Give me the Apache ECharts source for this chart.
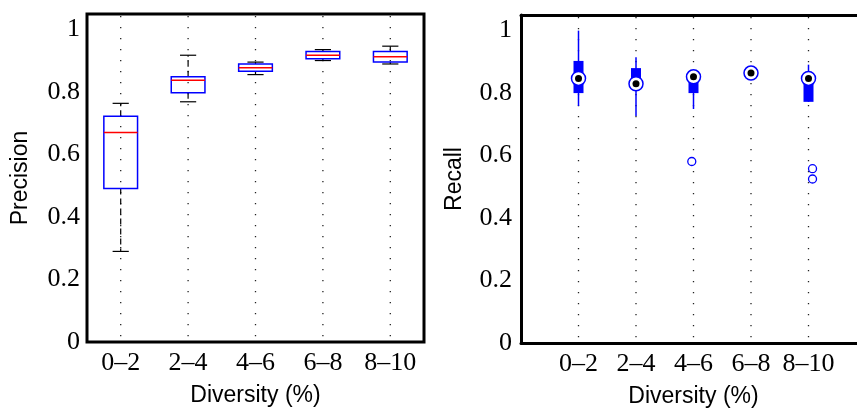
<!DOCTYPE html>
<html>
<head>
<meta charset="utf-8">
<script src="https://cdn.jsdelivr.net/npm/echarts@6/dist/echarts.min.js"></script>
<style>
html, body { margin: 0; padding: 0; background: #fff; }
#chart { width: 857px; height: 408px; }
</style>
</head>
<body>
<div id="chart"></div>
<script>
var categories = ['0–2', '2–4', '4–6', '6–8', '8–10'];

// Precision (left), classic box plot
var precisionLow    = [0.290, 0.769, 0.856, 0.901, 0.890];
var precisionQ1     = [0.491, 0.798, 0.867, 0.907, 0.896];
var precisionMedian = [0.671, 0.838, 0.878, 0.918, 0.913];
var precisionQ3     = [0.723, 0.849, 0.890, 0.930, 0.930];
var precisionHigh   = [0.764, 0.918, 0.896, 0.936, 0.947];

// Recall (right), compact box plot
var recallLow    = [0.759, 0.727, 0.749, 0.858, 0.772];
var recallQ1     = [0.800, 0.826, 0.800, 0.858, 0.772];
var recallMedian = [0.847, 0.830, 0.852, 0.864, 0.847];
var recallQ3     = [0.903, 0.880, 0.858, 0.870, 0.852];
var recallHigh   = [1.000, 0.915, 0.858, 0.870, 0.891];
// outliers: [x position (category number, jittered), value]
var recallOutliers = [[2.97, 0.581], [5.07, 0.558], [5.07, 0.525]];

var Y_MAX = 1.05;
var serif = 'Liberation Serif';
var sans = 'Liberation Sans';

var myChart = echarts.init(document.getElementById('chart'));

var precisionData = categories.map(function(c, i) {
	return [i, precisionLow[i], precisionQ1[i], precisionMedian[i], precisionQ3[i], precisionHigh[i]];
});
var recallData = categories.map(function(c, i) {
	return [i + 1, recallLow[i], recallQ1[i], recallMedian[i], recallQ3[i], recallHigh[i]];
});

//虚线网格（竖线）
function dottedLine(params, api) {
	var x = api.value(0);
	var top = api.coord([x, Y_MAX]);
	var bottom = api.coord([x, 0]);
	return {
		type: 'line',
		shape: { x1: top[0], y1: top[1] + 2, x2: bottom[0], y2: bottom[1] },
		style: { stroke: '#222', lineWidth: 1.3, lineDash: [1.3, 9.7] },
		silent: true
	};
}

function precisionBox(params, api) {
	var i = api.value(0);
	var band = api.size([1, 0])[0];
	var boxW = band * 0.5;
	var capW = band * 0.24;
	var x = api.coord([i, 0])[0];
	var yLow = api.coord([i, api.value(1)])[1];
	var yQ1 = api.coord([i, api.value(2)])[1];
	var yMed = api.coord([i, api.value(3)])[1];
	var yQ3 = api.coord([i, api.value(4)])[1];
	var yHigh = api.coord([i, api.value(5)])[1];
	var black = { stroke: '#000', lineWidth: 1.2 };
	return {
		type: 'group',
		children: [
			{ type: 'line', shape: { x1: x, y1: yQ3, x2: x, y2: yHigh }, style: { stroke: '#000', lineWidth: 1.2, lineDash: [6, 4] } },
			{ type: 'line', shape: { x1: x, y1: yQ1, x2: x, y2: yLow }, style: { stroke: '#000', lineWidth: 1.2, lineDash: [6, 4] } },
			{ type: 'line', shape: { x1: x - capW / 2, y1: yHigh, x2: x + capW / 2, y2: yHigh }, style: black },
			{ type: 'line', shape: { x1: x - capW / 2, y1: yLow, x2: x + capW / 2, y2: yLow }, style: black },
			{ type: 'rect', shape: { x: x - boxW / 2, y: yQ3, width: boxW, height: yQ1 - yQ3 }, style: { fill: 'none', stroke: '#0000ff', lineWidth: 1.5 } },
			{ type: 'line', shape: { x1: x - boxW / 2, y1: yMed, x2: x + boxW / 2, y2: yMed }, style: { stroke: '#ff0000', lineWidth: 1.5 } }
		]
	};
}

function recallBox(params, api) {
	var i = api.value(0);
	var x = api.coord([i, 0])[0];
	var yLow = api.coord([i, api.value(1)])[1];
	var yQ1 = api.coord([i, api.value(2)])[1];
	var yMed = api.coord([i, api.value(3)])[1];
	var yQ3 = api.coord([i, api.value(4)])[1];
	var yHigh = api.coord([i, api.value(5)])[1];
	return {
		type: 'group',
		children: [
			{ type: 'line', shape: { x1: x, y1: yLow, x2: x, y2: yHigh }, style: { stroke: '#0000ff', lineWidth: 1.5 } },
			{ type: 'rect', shape: { x: x - 5, y: yQ3, width: 10, height: yQ1 - yQ3 }, style: { fill: '#0000ff' } },
			{ type: 'circle', shape: { cx: x, cy: yMed, r: 7 }, style: { fill: '#fff', stroke: '#0000ff', lineWidth: 1.5 } },
			{ type: 'circle', shape: { cx: x, cy: yMed, r: 3.5 }, style: { fill: '#000' } }
		]
	};
}

function yLabel(v) {
	return v > 1.0001 ? '' : String(+v.toFixed(1));
}

var axisLabelStyle = { color: '#000', fontFamily: serif, fontSize: 26 };
var nameStyle = { color: '#000', fontFamily: sans, fontSize: 23 };
var thickLine = { show: true, lineStyle: { color: '#000', width: 3 } };

var option = {
	animation: false,
	grid: [
		{ left: 87, top: 14, right: 433, bottom: 66, show: true, borderColor: '#000', borderWidth: 3, outerBoundsMode: 'none', containLabel: false },
		{ left: 521, top: 15, right: -9, bottom: 65, show: false, outerBoundsMode: 'none', containLabel: false }
	],
	xAxis: [
		{
			gridIndex: 0, type: 'category', data: categories, boundaryGap: true,
			axisLine: { show: false }, axisTick: { show: false }, splitLine: { show: false },
			axisLabel: Object.assign({ margin: 8, interval: 0, hideOverlap: false }, axisLabelStyle),
			name: 'Diversity (%)', nameLocation: 'middle', nameGap: 42, nameTextStyle: nameStyle
		},
		{
			gridIndex: 1, type: 'value', min: 0, max: 6, interval: 1,
			axisLine: thickLine, axisTick: { show: false }, splitLine: { show: false },
			axisLabel: Object.assign({
				margin: 8, hideOverlap: false,
				formatter: function(v) { return (v >= 1 && v <= 5) ? categories[v - 1] : ''; }
			}, axisLabelStyle),
			name: 'Diversity (%)', nameLocation: 'middle', nameGap: 42, nameTextStyle: nameStyle
		},
		{
			// top frame line of the right panel
			gridIndex: 1, type: 'value', position: 'top', min: 0, max: 6, interval: 1,
			axisLine: thickLine, axisTick: { show: false }, axisLabel: { show: false }, splitLine: { show: false }
		}
	],
	yAxis: [
		{
			gridIndex: 0, type: 'value', min: 0, max: Y_MAX, interval: 0.2,
			axisLine: { show: false }, axisTick: { show: false }, splitLine: { show: false },
			axisLabel: Object.assign({ margin: 7, formatter: yLabel }, axisLabelStyle),
			name: 'Precision', nameLocation: 'middle', nameGap: 55, nameTextStyle: nameStyle
		},
		{
			gridIndex: 1, type: 'value', min: 0, max: Y_MAX, interval: 0.2,
			axisLine: thickLine, axisTick: { show: false }, splitLine: { show: false },
			axisLabel: Object.assign({ margin: 9, formatter: yLabel }, axisLabelStyle),
			name: 'Recall', nameLocation: 'middle', nameGap: 55, nameTextStyle: nameStyle
		}
	],
	series: [
		{ type: 'custom', xAxisIndex: 0, yAxisIndex: 0, data: precisionData, renderItem: dottedLine, z: 1 },
		{ type: 'custom', xAxisIndex: 1, yAxisIndex: 1, data: recallData, renderItem: dottedLine, z: 1 },
		{ type: 'custom', xAxisIndex: 0, yAxisIndex: 0, data: precisionData, renderItem: precisionBox, z: 2 },
		{ type: 'custom', xAxisIndex: 1, yAxisIndex: 1, data: recallData, renderItem: recallBox, z: 2 },
		{
			type: 'scatter', xAxisIndex: 1, yAxisIndex: 1, data: recallOutliers, z: 3,
			symbol: 'circle', symbolSize: 8,
			itemStyle: { color: '#fff', borderColor: '#0000ff', borderWidth: 1.3, opacity: 1 }
		}
	]
};
myChart.setOption(option);
</script>
</body>
</html>
